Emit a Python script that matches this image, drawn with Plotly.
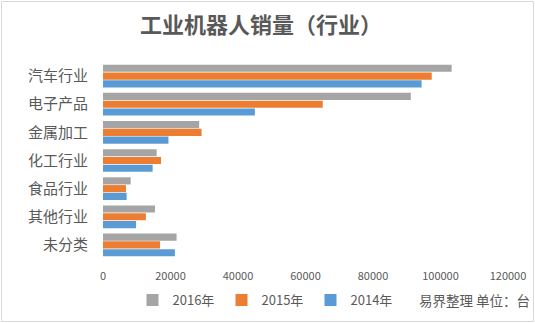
import plotly.graph_objects as go

categories = ["汽车行业", "电子产品", "金属加工", "化工行业", "食品行业", "其他行业", "未分类"]
sales_2016 = [103300, 91200, 28500, 15900, 8200, 15400, 21800]
sales_2015 = [97400, 65100, 29200, 17200, 6800, 12700, 16900]
sales_2014 = [94400, 45000, 19400, 14700, 7000, 9800, 21300]
series_names = ["2016年", "2015年", "2014年"]
colors = ["#A5A5A5", "#ED7D31", "#5B9BD5"]
x_ticks = [0, 20000, 40000, 60000, 80000, 100000, 120000]

font_family = "Noto Sans CJK SC, Microsoft YaHei, sans-serif"
text_color = "#595959"

fig = go.Figure()
for name, vals, col in zip(series_names, [sales_2016, sales_2015, sales_2014], colors):
    fig.add_trace(go.Bar(
        y=categories, x=vals, name=name, orientation="h",
        marker=dict(color=col, line=dict(width=0)),
    ))

L, R, T, B = 103, 27, 62, 64
W, H = 535, 323
pw, ph = W - L - R, H - T - B

def px(xp):
    return (xp - L) / pw

def py(yp):
    return (H - B - yp) / ph

fig.update_layout(
    width=W, height=H,
    margin=dict(l=L, r=R, t=T, b=B, pad=0, autoexpand=False),
    paper_bgcolor="white", plot_bgcolor="white",
    font=dict(family=font_family, color=text_color),
    barmode="group", bargap=0.17, bargroupgap=0.08,
    title=dict(text="<b>工业机器人销量（行业）</b>", x=261 / W, xref="container", xanchor="center",
               y=1 - 25 / H, yref="container", yanchor="middle",
               font=dict(size=22, color="#595959", family=font_family)),
    xaxis=dict(range=[0, 120000], tickvals=x_ticks, tickformat="d", showgrid=False,
               zeroline=False, showline=False, ticks="", ticklabelstandoff=9,
               tickfont=dict(size=11, color=text_color)),
    yaxis=dict(autorange="reversed", showgrid=False, showline=False, ticks="",
               ticklabelstandoff=14, tickfont=dict(size=15, color=text_color)),
    legend=dict(orientation="h", xref="container", yref="container",
                x=266 / W, xanchor="center", y=1 - 300 / H, yanchor="middle",
                font=dict(size=13, color=text_color), itemwidth=30, traceorder="normal",
                entrywidth=44, entrywidthmode="pixels",
                bgcolor="rgba(0,0,0,0)"),
    showlegend=True,
)

fig.add_annotation(text="易界整理 单位：台", x=px(532), y=py(300), xref="paper", yref="paper",
                   xanchor="right", yanchor="middle", showarrow=False,
                   font=dict(size=13.5, color=text_color, family=font_family))

fig.add_shape(type="rect", xref="paper", yref="paper",
              x0=px(1.5), x1=px(533.5), y0=py(321.5), y1=py(1.5),
              line=dict(color="#D9D9D9", width=1), fillcolor="rgba(0,0,0,0)", layer="below")

fig.write_html("out.html")
